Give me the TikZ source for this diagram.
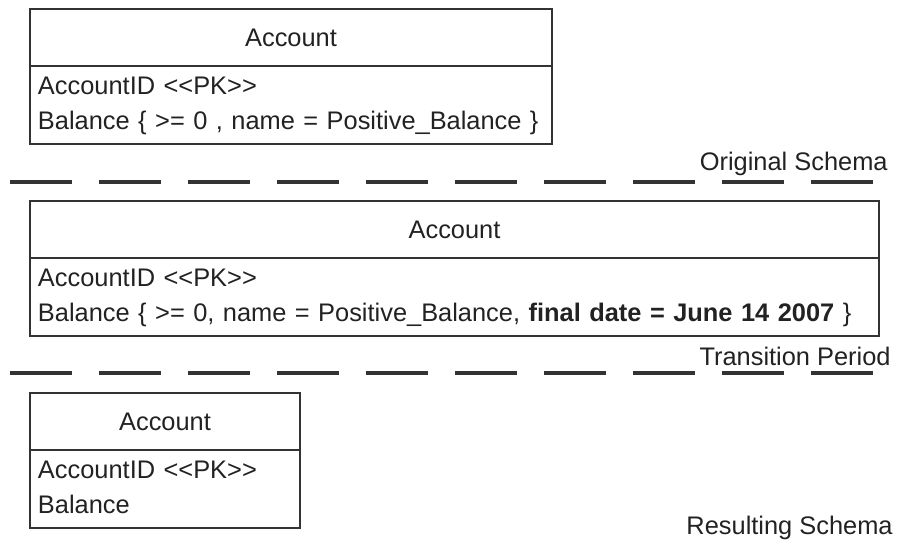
\documentclass[tikz,border=0pt]{standalone}
\usepackage{fontspec}
\setmainfont{Liberation Sans}
\usetikzlibrary{positioning}
\definecolor{grislinea}{HTML}{333333}
\definecolor{gristexto}{HTML}{222222}
\newcommand{\fuenteClase}{\fontsize{12.7pt}{17.5pt}\selectfont}
\tikzset{
  cajaTitulo/.style={
    draw=grislinea, line width=1.4pt, outer sep=0pt, inner sep=0pt,
    minimum width=#1, minimum height=28.5pt, anchor=north west,
    font=\fuenteClase, text=gristexto
  },
  cajaAtributos/.style={
    draw=grislinea, line width=1.4pt, outer sep=0pt,
    inner xsep=4pt, inner ysep=0pt, text width=#1-8pt,
    minimum height=39pt, align=left, font=\fuenteClase, text=gristexto,
    execute at begin node=\strut, execute at end node=\strut
  },
  separador/.style={draw=grislinea, line width=1.6pt, dash pattern=on 31pt off 13.5pt},
  etiquetaFase/.style={anchor=base east, inner sep=0pt, font=\fuenteClase, text=gristexto},
}

\begin{document}
\begin{tikzpicture}[x=0.5pt, y=-0.5pt]
  \useasboundingbox (0,0) rectangle (901,540);

  % esquema original
  \node[cajaTitulo=261pt] (cuentaOriginal) at (30,9) {Account};
  \node[cajaAtributos=261pt, below=0pt of cuentaOriginal] (atribOriginal)
    {AccountID <{}<PK>{}>\\Balance \{ >= 0 , name = Positive\_Balance \}};
  \node[etiquetaFase] (etqOriginal) at (888,171) {Original Schema};
  \coordinate (sepAini) at (10,182);
  \coordinate (sepAfin) at (880,182);
  \draw[separador] (sepAini) -- (sepAfin);

  % periodo de transicion
  \node[cajaTitulo=424.5pt] (cuentaTransicion) at (30,201) {Account};
  \node[cajaAtributos=424.5pt, below=0pt of cuentaTransicion] (atribTransicion)
    {AccountID <{}<PK>{}>\\Balance \{ >= 0, name = Positive\_Balance, \textbf{final date = June 14 2007} \}};
  \node[etiquetaFase] (etqTransicion) at (891,365) {Transition Period};
  \coordinate (sepBini) at (10,373);
  \coordinate (sepBfin) at (880,373);
  \draw[separador] (sepBini) -- (sepBfin);

  % esquema resultante
  \node[cajaTitulo=135pt] (cuentaResultante) at (30,393) {Account};
  \node[cajaAtributos=135pt, below=0pt of cuentaResultante] (atribResultante)
    {AccountID <{}<PK>{}>\\Balance};
  \node[etiquetaFase] (etqResultante) at (893,534) {Resulting Schema};
\end{tikzpicture}
\end{document}
